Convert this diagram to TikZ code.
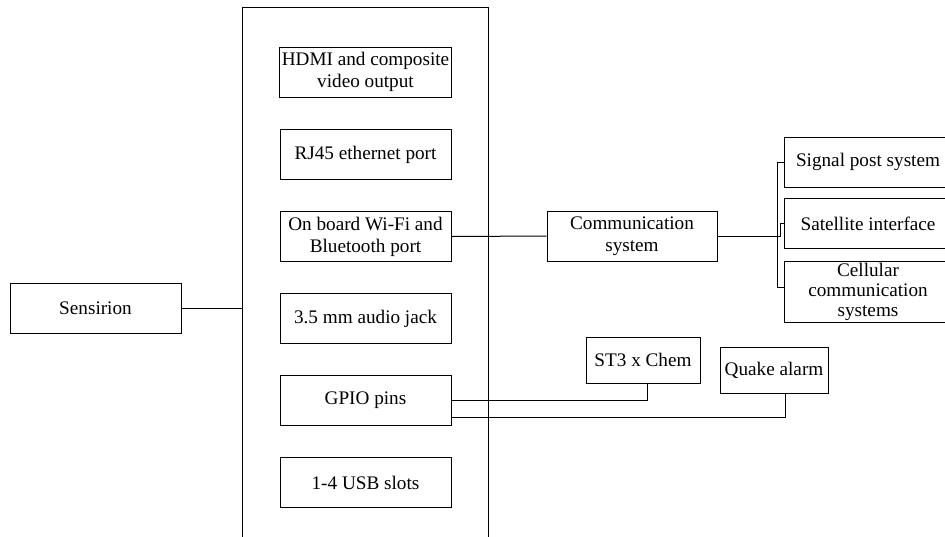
\documentclass[tikz,border=0pt]{standalone}
\usepackage{fontspec}
\setmainfont{Liberation Serif}
\usepackage{tikz}

\tikzset{
  part/.style={draw, rectangle, minimum width=85.5pt, minimum height=25pt,
    align=center, inner sep=1pt, font=\fontsize{9.6}{11}\selectfont},
}

\begin{document}
\begin{tikzpicture}[x=0.5pt, y=-0.5pt, line width=0.5pt]
\useasboundingbox (0,0) rectangle (945,536);
\clip (0,0) rectangle (945,536);

% board and its ports
\node[draw, minimum width=123pt, minimum height=276.5pt, inner sep=0pt] (board) at (365,283.5) {};
\node[part] (hdmi) at (365.5,72) {HDMI and composite\\video output};
\node[part] (rj45) at (365.5,154.5) {RJ45 ethernet port};
\node[part] (wifi) at (365.5,236.5) {On board Wi-Fi and\\Bluetooth port};
\node[part] (audio) at (365.5,318.5) {3.5 mm audio jack};
\node[part] (gpio) at (365.5,400) {GPIO pins};
\node[part] (usb) at (365.5,482.5) {1-4 USB slots};

\node[part] (sens) at (95.5,308) {Sensirion};
\draw (sens.east) -- (board.west |- sens.east);

% communication
\node[part, minimum width=85pt] (comm) at (632,236) {Communication\\system};
\node[part, minimum width=84pt] (signal) at (868,162) {Signal post system};
\node[part, minimum width=84pt] (sat) at (868,223.5) {Satellite interface};
\node[part, minimum width=84pt, minimum height=30pt,
  font=\fontsize{9.6}{10}\selectfont] (cell) at (868,292) {Cellular\\communication\\systems};

\draw (wifi.east) -- (comm.west);
\coordinate (bus) at (777,236);
\draw (comm.east) -- (bus);
\draw (signal.west) -| (bus) |- ([yshift=2.5pt]cell.west);
\draw (bus) -- ++(3,0) |- (sat.west);

% sensors on GPIO
\node[part, minimum width=57pt, minimum height=23pt] (st3) at (643,360) {ST3 x Chem};
\node[part, minimum width=54pt, minimum height=23pt] (quake) at (774,370) {Quake alarm};
\draw (gpio.east) -| ([xshift=2pt]st3.south);
\draw ([yshift=-8.5pt]gpio.east) -| ([xshift=5.5pt]quake.south);
\end{tikzpicture}
\end{document}
